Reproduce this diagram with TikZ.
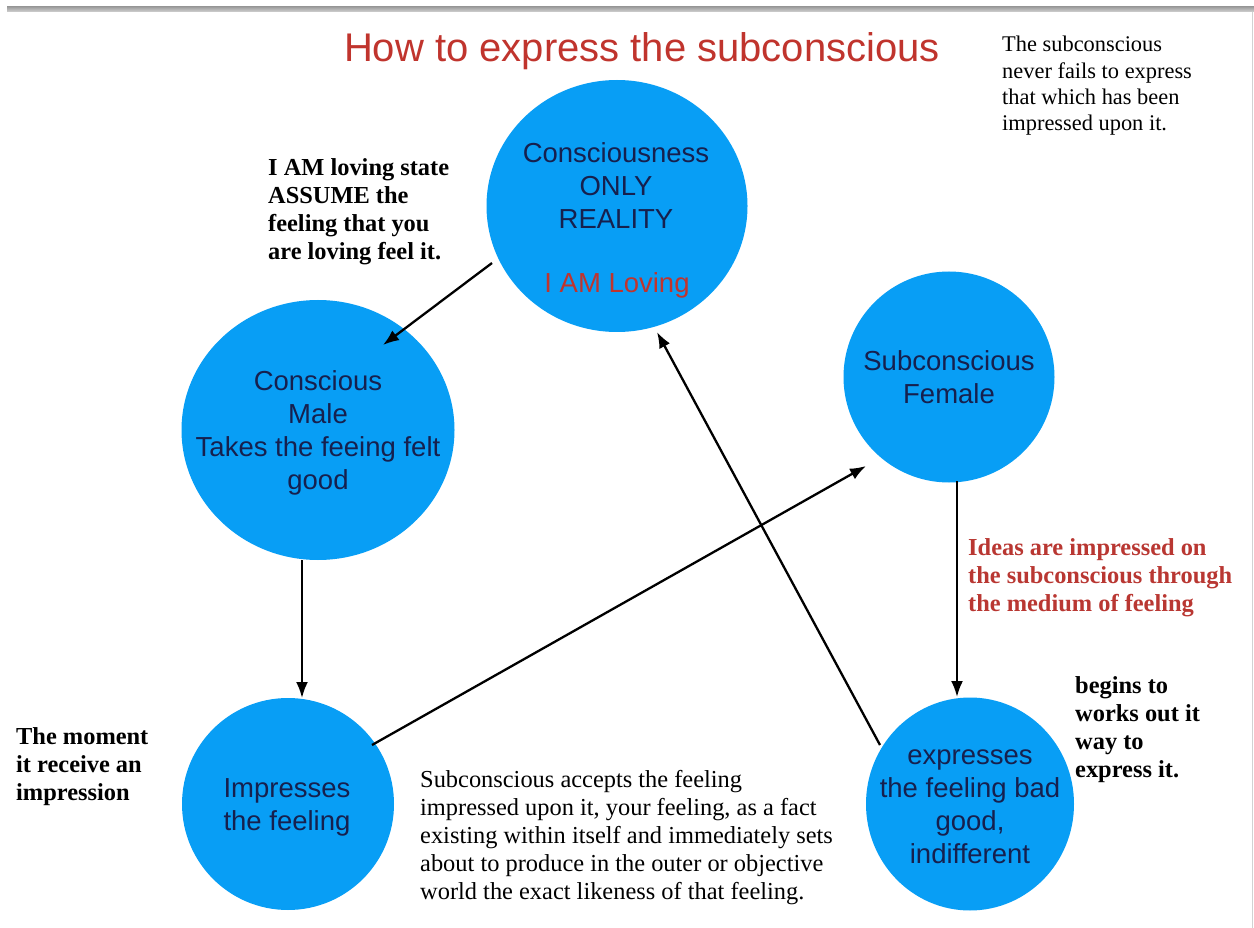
\documentclass[tikz,border=0pt]{standalone}
\usepackage{fontspec}
\setmainfont{Liberation Serif}
\newfontfamily\arialf{Liberation Sans}
\usetikzlibrary{shapes.geometric,arrows.meta,calc}
\definecolor{blob}{RGB}{8,158,245}
\definecolor{navy}{RGB}{22,32,78}
\definecolor{titred}{RGB}{192,52,45}
\definecolor{notered}{RGB}{185,55,50}
\begin{document}
\begin{tikzpicture}[x=1pt,y=-1pt,
  bubble/.style={ellipse, fill=blob, draw=none, inner sep=0pt},
  ctext/.style={align=center, text=navy, font=\arialf\fontsize{27.5}{33}\selectfont, inner sep=0pt},
  note/.style={align=left, anchor=west, inner sep=0pt, font=\fontsize{24.4}{28}\selectfont},
  bnote/.style={note, font=\bfseries\fontsize{24.4}{28}\selectfont},
  arr/.style={-{Latex[length=16pt,width=12pt]}, line width=2.3pt, black}]
\useasboundingbox (0,0) rectangle (1254,928);
\fill[white] (0,0) rectangle (1254,928);
% frame lines
\shade[top color=gray!75, bottom color=gray!35] (7,7) rectangle (1254,12);
\draw[gray!35, line width=1.5pt] (1252.5,12) -- (1252.5,928);

% title
\node[anchor=base, text=titred, font=\arialf\fontsize{40}{48}\selectfont, inner sep=0pt] (title) at (642,62) {How to express the subconscious};

% circles
\node[bubble, minimum width=261pt, minimum height=252pt] (c1) at (617,206) {};
\node[bubble, minimum width=273pt, minimum height=260pt] (c2) at (318,430) {};
\node[bubble, minimum width=211pt, minimum height=211pt] (c3) at (949,377) {};
\node[bubble, minimum width=212pt, minimum height=212pt] (c4) at (288,804) {};
\node[bubble, minimum width=208pt, minimum height=213pt] (c5) at (970,804) {};

% circle texts
\node[ctext] (t1) at (616,186) {Consciousness\\ONLY\\REALITY};
\node[ctext, text=titred] (t1b) at (617,285) {I AM Loving};
\node[ctext] (t2) at (318,433) {Conscious\\Male\\Takes the feeing felt\\good};
\node[ctext] (t3) at (949,377) {Subconscious\\Female};
\node[ctext] (t4) at (287,807) {Impresses\\the feeling};
\node[ctext] (t5) at (970,807) {expresses\\the feeling bad\\good,\\indifferent};

% notes
\node[note, font=\fontsize{22.4}{26.3}\selectfont] (n1) at (1002,86) {The subconscious\\never fails to express\\that which has been\\impressed upon it.};
\node[bnote] (n2) at (268,212) {I AM loving state\\ASSUME the\\feeling that you\\are loving feel it.};
\node[bnote, text=notered] (n3) at (968,578) {Ideas are impressed on\\the subconscious through\\the medium of feeling};
\node[bnote] (n4) at (1075,730) {begins to\\works out it\\way to\\express it.};
\node[bnote] (n5) at (16,767) {The moment\\it receive an\\impression};
\node[note] (n6) at (420,838) {Subconscious accepts the feeling\\impressed upon it, your feeling, as a fact\\existing within itself and immediately sets\\about to produce in the outer or objective\\world the exact likeness of that feeling.};

% arrows
\draw[arr] ($(c1.center)+(-125,57)$) -- ($(c2.center)+(65,-85)$);
\draw[arr] ($(c2.center)+(-16,130)$) -- ($(c4.center)+(14,-106)$);
\draw[arr] ($(c4.center)+(84,-59)$) -- ($(c3.center)+(-83,89)$);
\draw[arr] ($(c3.center)+(8,104)$) -- ($(c5.center)+(-13,-107)$);
\draw[arr] ($(c5.center)+(-90,-59)$) -- ($(c1.center)+(40,126)$);
\end{tikzpicture}
\end{document}
